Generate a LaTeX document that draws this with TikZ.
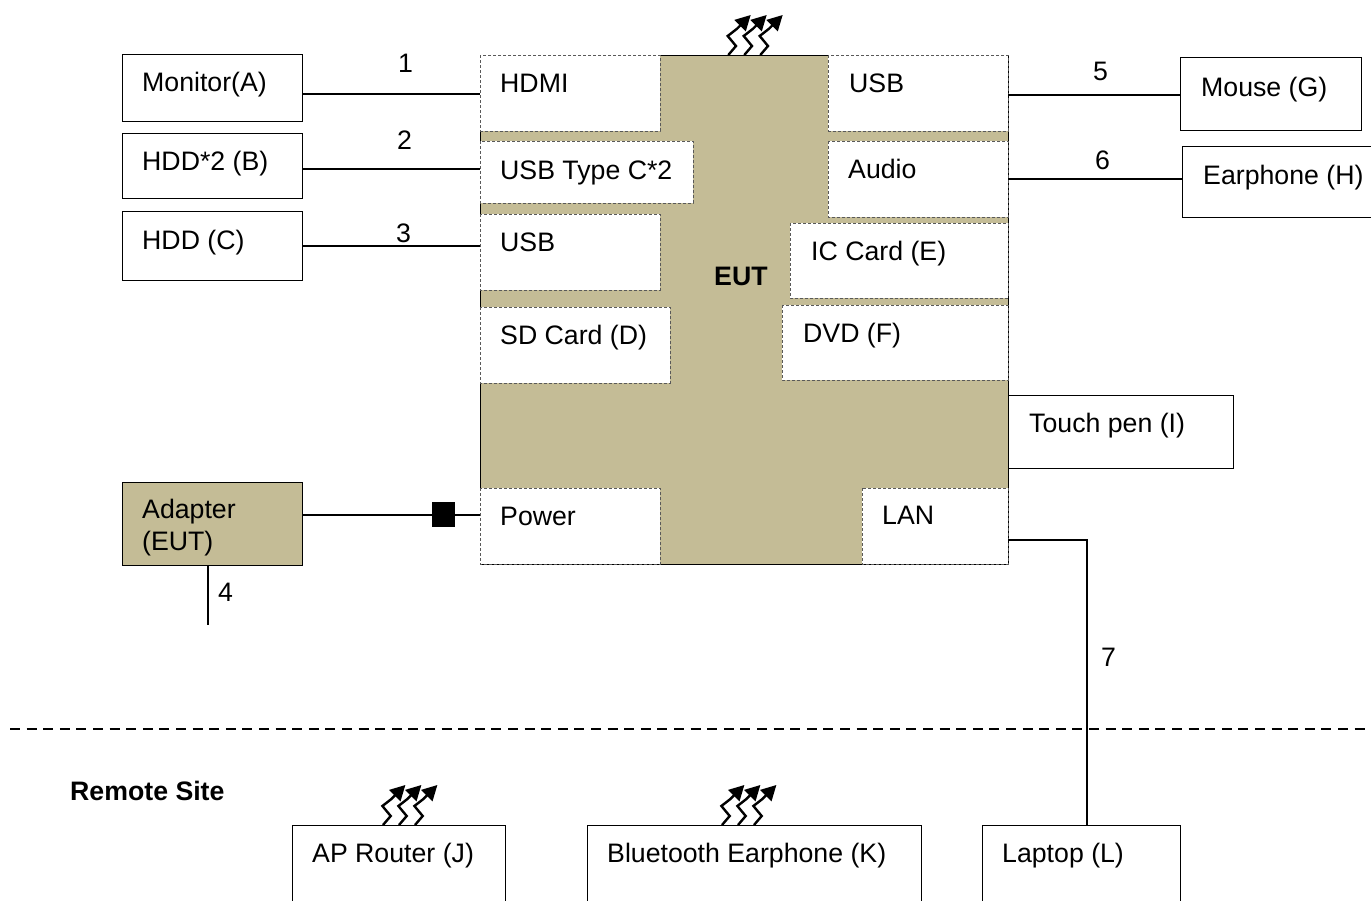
\documentclass[tikz,border=0pt]{standalone}
\usepackage{fontspec}
\setmainfont{Liberation Sans}
\usetikzlibrary{arrows.meta,calc}
\definecolor{eut}{HTML}{C4BC96}
\tikzset{
 x=1pt,y=-1pt,
 solidbox/.style={draw=black,line width=1pt,fill=white},
 portbox/.style={draw=black!65,line width=0.9pt,dash pattern=on 3pt off 2pt,fill=white},
 tanbox/.style={solidbox,fill=eut},
 txt/.style={font=\fontsize{26.7}{30}\selectfont,inner sep=0pt,anchor=base west,yshift=-0.6pt},
 boldtxt/.style={txt,font=\fontsize{26.7}{30}\selectfont\bfseries},
 wire/.style={line width=1.6pt,draw=black},
 zig/.style={line width=2.4pt,draw=black,-{Triangle[length=15pt,width=15.5pt]}},
 block/.style={fill=black,inner sep=0pt,outer sep=0pt,minimum width=23pt,minimum height=25pt},
 sep/.style={line width=1.6pt,dash pattern=on 10pt off 6.6pt},
}
\newcommand{\radio}[2]{\foreach \d in {0,16,32}{
  \draw[zig] ($(#1+\d,#2)$) -- ++(7.7,-9) -- ++(-8.3,-10) -- ++(9,-7) -- ++(14,-14);}}
\begin{document}
\begin{tikzpicture}
\useasboundingbox (0,0) rectangle (1371,901);
\clip (0,0) rectangle (1371,901);
% EUT body
\path[tanbox] (480,55.5) rectangle (1008,564);
\node[boldtxt] (eutl) at (714,285) {EUT};
% left devices
\path[solidbox] (122,54.5) rectangle (302,122);
\path[solidbox] (122,133.5) rectangle (302,199);
\path[solidbox] (122,211.5) rectangle (302,281);
\path[tanbox] (122,482) rectangle (302,565);
\coordinate (monR) at (303,94);
\coordinate (hdbR) at (303,169);
\coordinate (hdcR) at (303,246);
\coordinate (adpR) at (303,515);
\coordinate (adpB) at (208,565);
\coordinate (cordEnd) at (208,625);
% ports
\path[portbox] (480,55.5) rectangle (660,131);
\path[portbox] (480,141) rectangle (693,203);
\path[portbox] (480,214) rectangle (660,290);
\path[portbox] (480,307) rectangle (670,383);
\path[portbox] (480,488) rectangle (660,564);
\path[portbox] (828,55.5) rectangle (1008,131);
\path[portbox] (828,141) rectangle (1008,217);
\path[portbox] (790,223) rectangle (1008,298);
\path[portbox] (782,305) rectangle (1008,380);
\path[portbox] (862,488) rectangle (1008,564);
\coordinate (hdmiL) at (480,94);
\coordinate (typecL) at (480,169);
\coordinate (usbL) at (480,246);
\coordinate (powL) at (480,515);
\coordinate (usbR) at (1008,95);
\coordinate (audR) at (1008,179);
\coordinate (lanR) at (1008,540);
% right devices
\path[solidbox] (1008,395) rectangle (1233,468);
\path[solidbox] (1180,58) rectangle (1361,131);
\path[solidbox] (1182,147) rectangle (1380,218);
\coordinate (mouL) at (1180,95);
\coordinate (earL) at (1182,179);
% remote
\path[solidbox] (292,825) rectangle (505,920);
\path[solidbox] (587,825) rectangle (921,920);
\path[solidbox] (982,825) rectangle (1180,920);
\coordinate (lapT) at (1087,825);
\coordinate (lanC) at (1087,540);
% connectors
\draw[wire] (monR) -- (hdmiL);
\draw[wire] (hdbR) -- (typecL);
\draw[wire] (hdcR) -- (usbL);
\draw[wire] (adpR) -- (powL);
\node[block] (sq) at (443.5,514.5) {};
\draw[wire] (adpB) -- (cordEnd);
\draw[wire] (usbR) -- (mouL);
\draw[wire] (audR) -- (earL);
\draw[wire] (lanR) -- (lanC) -- (lapT);
\coordinate (sepA) at (10,729);
\coordinate (sepB) at (1371,729);
\draw[sep] (sepA) -- (sepB);
% radios
\radio{728.3}{55}
\radio{383}{825}
\radio{722}{825}
% texts
\node[txt] (t1) at (142,91) {Monitor(A)};
\node[txt] (t2) at (142,170) {HDD*2 (B)};
\node[txt] (t3) at (142,249) {HDD (C)};
\node[txt] (t4) at (142,518) {Adapter};
\node[txt] (t5) at (142,550) {(EUT)};
\node[txt] (t6) at (500,92) {HDMI};
\node[txt] (t7) at (500,179) {USB Type C*2};
\node[txt] (t8) at (500,251) {USB};
\node[txt] (t9) at (500,344) {SD Card (D)};
\node[txt] (t10) at (500,525) {Power};
\node[txt] (t11) at (849,92) {USB};
\node[txt] (t12) at (848,178) {Audio};
\node[txt] (t13) at (811,260) {IC Card (E)};
\node[txt] (t14) at (803,341.5) {DVD (F)};
\node[txt] (t15) at (882,524) {LAN};
\node[txt] (t16) at (1029,432) {Touch pen (I)};
\node[txt] (t17) at (1201,96) {Mouse (G)};
\node[txt] (t18) at (1203,184) {Earphone (H)};
\node[txt] (t19) at (312,862) {AP Router (J)};
\node[txt] (t20) at (607,862) {Bluetooth Earphone (K)};
\node[txt] (t21) at (1002,862) {Laptop (L)};
\node[boldtxt] (t22) at (70,800) {Remote Site};
\node[txt] (n1) at (398,72) {1};
\node[txt] (n2) at (397,149) {2};
\node[txt] (n3) at (396,242) {3};
\node[txt] (n4) at (218,601) {4};
\node[txt] (n5) at (1093,80) {5};
\node[txt] (n6) at (1095,169) {6};
\node[txt] (n7) at (1101,666) {7};
\end{tikzpicture}
\end{document}
